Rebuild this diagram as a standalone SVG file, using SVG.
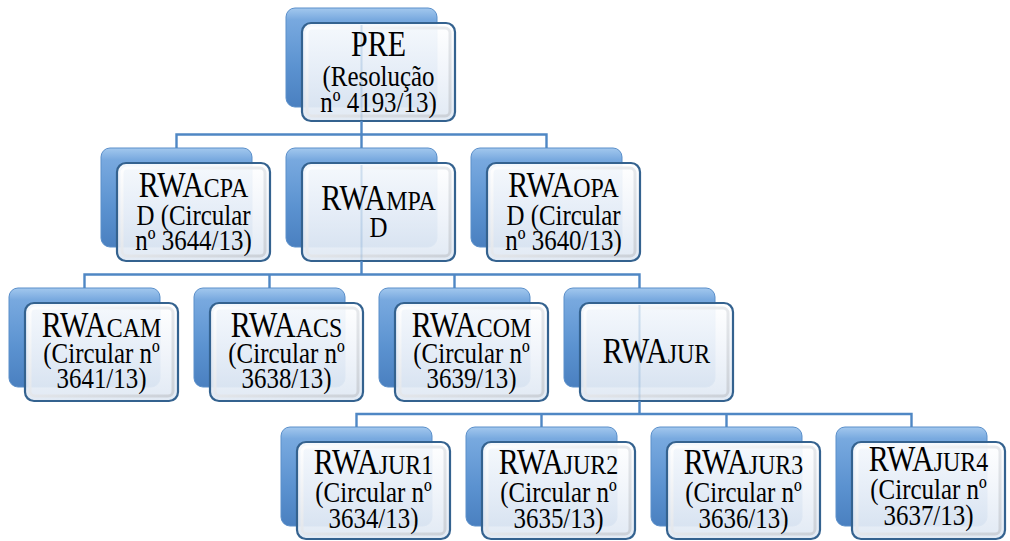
<svg xmlns="http://www.w3.org/2000/svg" width="1010" height="541" viewBox="0 0 1010 541">
<defs>
<linearGradient id="gBack" x1="0" y1="0" x2="0" y2="1">
<stop offset="0" stop-color="#a3c8ee"/>
<stop offset="0.12" stop-color="#78a9df"/>
<stop offset="0.6" stop-color="#5b92d0"/>
<stop offset="1" stop-color="#4a80c0"/>
</linearGradient>
<linearGradient id="gFront" x1="0" y1="0" x2="0" y2="1">
<stop offset="0" stop-color="#ffffff"/>
<stop offset="0.5" stop-color="#f0f4fa"/>
<stop offset="1" stop-color="#dfe8f3"/>
</linearGradient>
<linearGradient id="gBevel" x1="0" y1="0" x2="1" y2="1">
<stop offset="0" stop-color="#ffffff"/>
<stop offset="1" stop-color="#c9ced5"/>
</linearGradient>
</defs>
<style>
.back{fill:url(#gBack);stroke:#5a8fca;stroke-width:1}
.front{fill:url(#gFront);fill-opacity:0.93;stroke:#34628f;stroke-width:2.2}
.bevel{fill:none;stroke:url(#gBevel);stroke-width:3;opacity:0.9}
.conn{fill:none;stroke:#4f87c4;stroke-width:2.4}
.faint{fill:none;stroke:#4f87c4;stroke-width:2;opacity:0.22}
text{font-family:'Liberation Serif','Times New Roman',serif;fill:#000;text-anchor:middle;font-size:29.5px}
.big{font-size:35.5px}
.sc{font-size:28.3px}
</style>
<rect width="1010" height="541" fill="#ffffff"/>

<g id="node-pre">
<rect class="back" x="286" y="8" width="151" height="99" rx="9"/>
<rect class="front" x="302" y="23" width="153" height="98" rx="9"/>
<rect class="bevel" x="307" y="28" width="143" height="88" rx="5"/>
<g transform="translate(378.5 0) scale(0.845 1)">
<text x="0" y="56"><tspan class="big">PRE</tspan></text>
<text x="0" y="86">(Resolução</text>
<text x="0" y="112">nº 4193/13)</text>
</g>
</g>

<g id="node-cpad">
<rect class="back" x="101" y="148" width="151" height="99" rx="9"/>
<rect class="front" x="117" y="163" width="153" height="98" rx="9"/>
<rect class="bevel" x="122" y="168" width="143" height="88" rx="5"/>
<g transform="translate(193.5 0) scale(0.845 1)">
<text x="0" y="197"><tspan class="big">RWA</tspan><tspan class="sc">CPA</tspan></text>
<text x="0" y="225">D (Circular</text>
<text x="0" y="250">nº 3644/13)</text>
</g>
</g>

<g id="node-mpad">
<rect class="back" x="286" y="148" width="151" height="99" rx="9"/>
<rect class="front" x="302" y="163" width="153" height="98" rx="9"/>
<rect class="bevel" x="307" y="168" width="143" height="88" rx="5"/>
<g transform="translate(378.5 0) scale(0.845 1)">
<text x="0" y="210"><tspan class="big">RWA</tspan><tspan class="sc">MPA</tspan></text>
<text x="0" y="237">D</text>
</g>
</g>

<g id="node-opad">
<rect class="back" x="471" y="148" width="151" height="99" rx="9"/>
<rect class="front" x="487" y="163" width="153" height="98" rx="9"/>
<rect class="bevel" x="492" y="168" width="143" height="88" rx="5"/>
<g transform="translate(563.5 0) scale(0.845 1)">
<text x="0" y="197"><tspan class="big">RWA</tspan><tspan class="sc">OPA</tspan></text>
<text x="0" y="225">D (Circular</text>
<text x="0" y="250">nº 3640/13)</text>
</g>
</g>

<g id="node-cam">
<rect class="back" x="9" y="288" width="151" height="99" rx="9"/>
<rect class="front" x="25" y="303" width="153" height="98" rx="9"/>
<rect class="bevel" x="30" y="308" width="143" height="88" rx="5"/>
<g transform="translate(101.5 0) scale(0.845 1)">
<text x="0" y="337"><tspan class="big">RWA</tspan><tspan class="sc">CAM</tspan></text>
<text x="0" y="363">(Circular nº</text>
<text x="0" y="388">3641/13)</text>
</g>
</g>

<g id="node-acs">
<rect class="back" x="194" y="288" width="151" height="99" rx="9"/>
<rect class="front" x="210" y="303" width="153" height="98" rx="9"/>
<rect class="bevel" x="215" y="308" width="143" height="88" rx="5"/>
<g transform="translate(286.5 0) scale(0.845 1)">
<text x="0" y="337"><tspan class="big">RWA</tspan><tspan class="sc">ACS</tspan></text>
<text x="0" y="363">(Circular nº</text>
<text x="0" y="388">3638/13)</text>
</g>
</g>

<g id="node-com">
<rect class="back" x="379" y="288" width="151" height="99" rx="9"/>
<rect class="front" x="395" y="303" width="153" height="98" rx="9"/>
<rect class="bevel" x="400" y="308" width="143" height="88" rx="5"/>
<g transform="translate(471.5 0) scale(0.845 1)">
<text x="0" y="337"><tspan class="big">RWA</tspan><tspan class="sc">COM</tspan></text>
<text x="0" y="363">(Circular nº</text>
<text x="0" y="388">3639/13)</text>
</g>
</g>

<g id="node-jur">
<rect class="back" x="564" y="288" width="151" height="99" rx="9"/>
<rect class="front" x="580" y="303" width="153" height="98" rx="9"/>
<rect class="bevel" x="585" y="308" width="143" height="88" rx="5"/>
<g transform="translate(656.5 0) scale(0.845 1)">
<text x="0" y="363"><tspan class="big">RWA</tspan><tspan class="sc">JUR</tspan></text>
</g>
</g>

<g id="node-jur1">
<rect class="back" x="281" y="427" width="151" height="99" rx="9"/>
<rect class="front" x="297" y="442" width="153" height="97" rx="9"/>
<rect class="bevel" x="302" y="447" width="143" height="87" rx="5"/>
<g transform="translate(373.5 0) scale(0.845 1)">
<text x="0" y="474"><tspan class="big">RWA</tspan><tspan class="sc">JUR1</tspan></text>
<text x="0" y="502">(Circular nº</text>
<text x="0" y="528">3634/13)</text>
</g>
</g>

<g id="node-jur2">
<rect class="back" x="466" y="427" width="151" height="99" rx="9"/>
<rect class="front" x="482" y="442" width="153" height="97" rx="9"/>
<rect class="bevel" x="487" y="447" width="143" height="87" rx="5"/>
<g transform="translate(558.5 0) scale(0.845 1)">
<text x="0" y="474"><tspan class="big">RWA</tspan><tspan class="sc">JUR2</tspan></text>
<text x="0" y="502">(Circular nº</text>
<text x="0" y="528">3635/13)</text>
</g>
</g>

<g id="node-jur3">
<rect class="back" x="651" y="427" width="151" height="99" rx="9"/>
<rect class="front" x="667" y="442" width="153" height="97" rx="9"/>
<rect class="bevel" x="672" y="447" width="143" height="87" rx="5"/>
<g transform="translate(743.5 0) scale(0.845 1)">
<text x="0" y="474"><tspan class="big">RWA</tspan><tspan class="sc">JUR3</tspan></text>
<text x="0" y="502">(Circular nº</text>
<text x="0" y="528">3636/13)</text>
</g>
</g>

<g id="node-jur4">
<rect class="back" x="836" y="427" width="151" height="99" rx="9"/>
<rect class="front" x="852" y="442" width="153" height="97" rx="9"/>
<rect class="bevel" x="857" y="447" width="143" height="87" rx="5"/>
<g transform="translate(928.5 0) scale(0.845 1)">
<text x="0" y="471"><tspan class="big">RWA</tspan><tspan class="sc">JUR4</tspan></text>
<text x="0" y="499">(Circular nº</text>
<text x="0" y="525">3637/13)</text>
</g>
</g>

<g id="connectors">
<path class="conn" d="M361.5 121V134.5M176.5 148V134.5H546.5V148M361.5 134.5V148"/>
<path class="conn" d="M361.5 261V274.5M84.5 288V274.5H639.5V288M269.5 274.5V288M454.5 274.5V288"/>
<path class="conn" d="M639.5 401V414M356.5 427V414H911.5V427M541.5 414V427M726.5 414V427"/>
<path class="faint" d="M361.5 25V120M361.5 165V260M639.5 305V400"/>
</g>
</svg>
